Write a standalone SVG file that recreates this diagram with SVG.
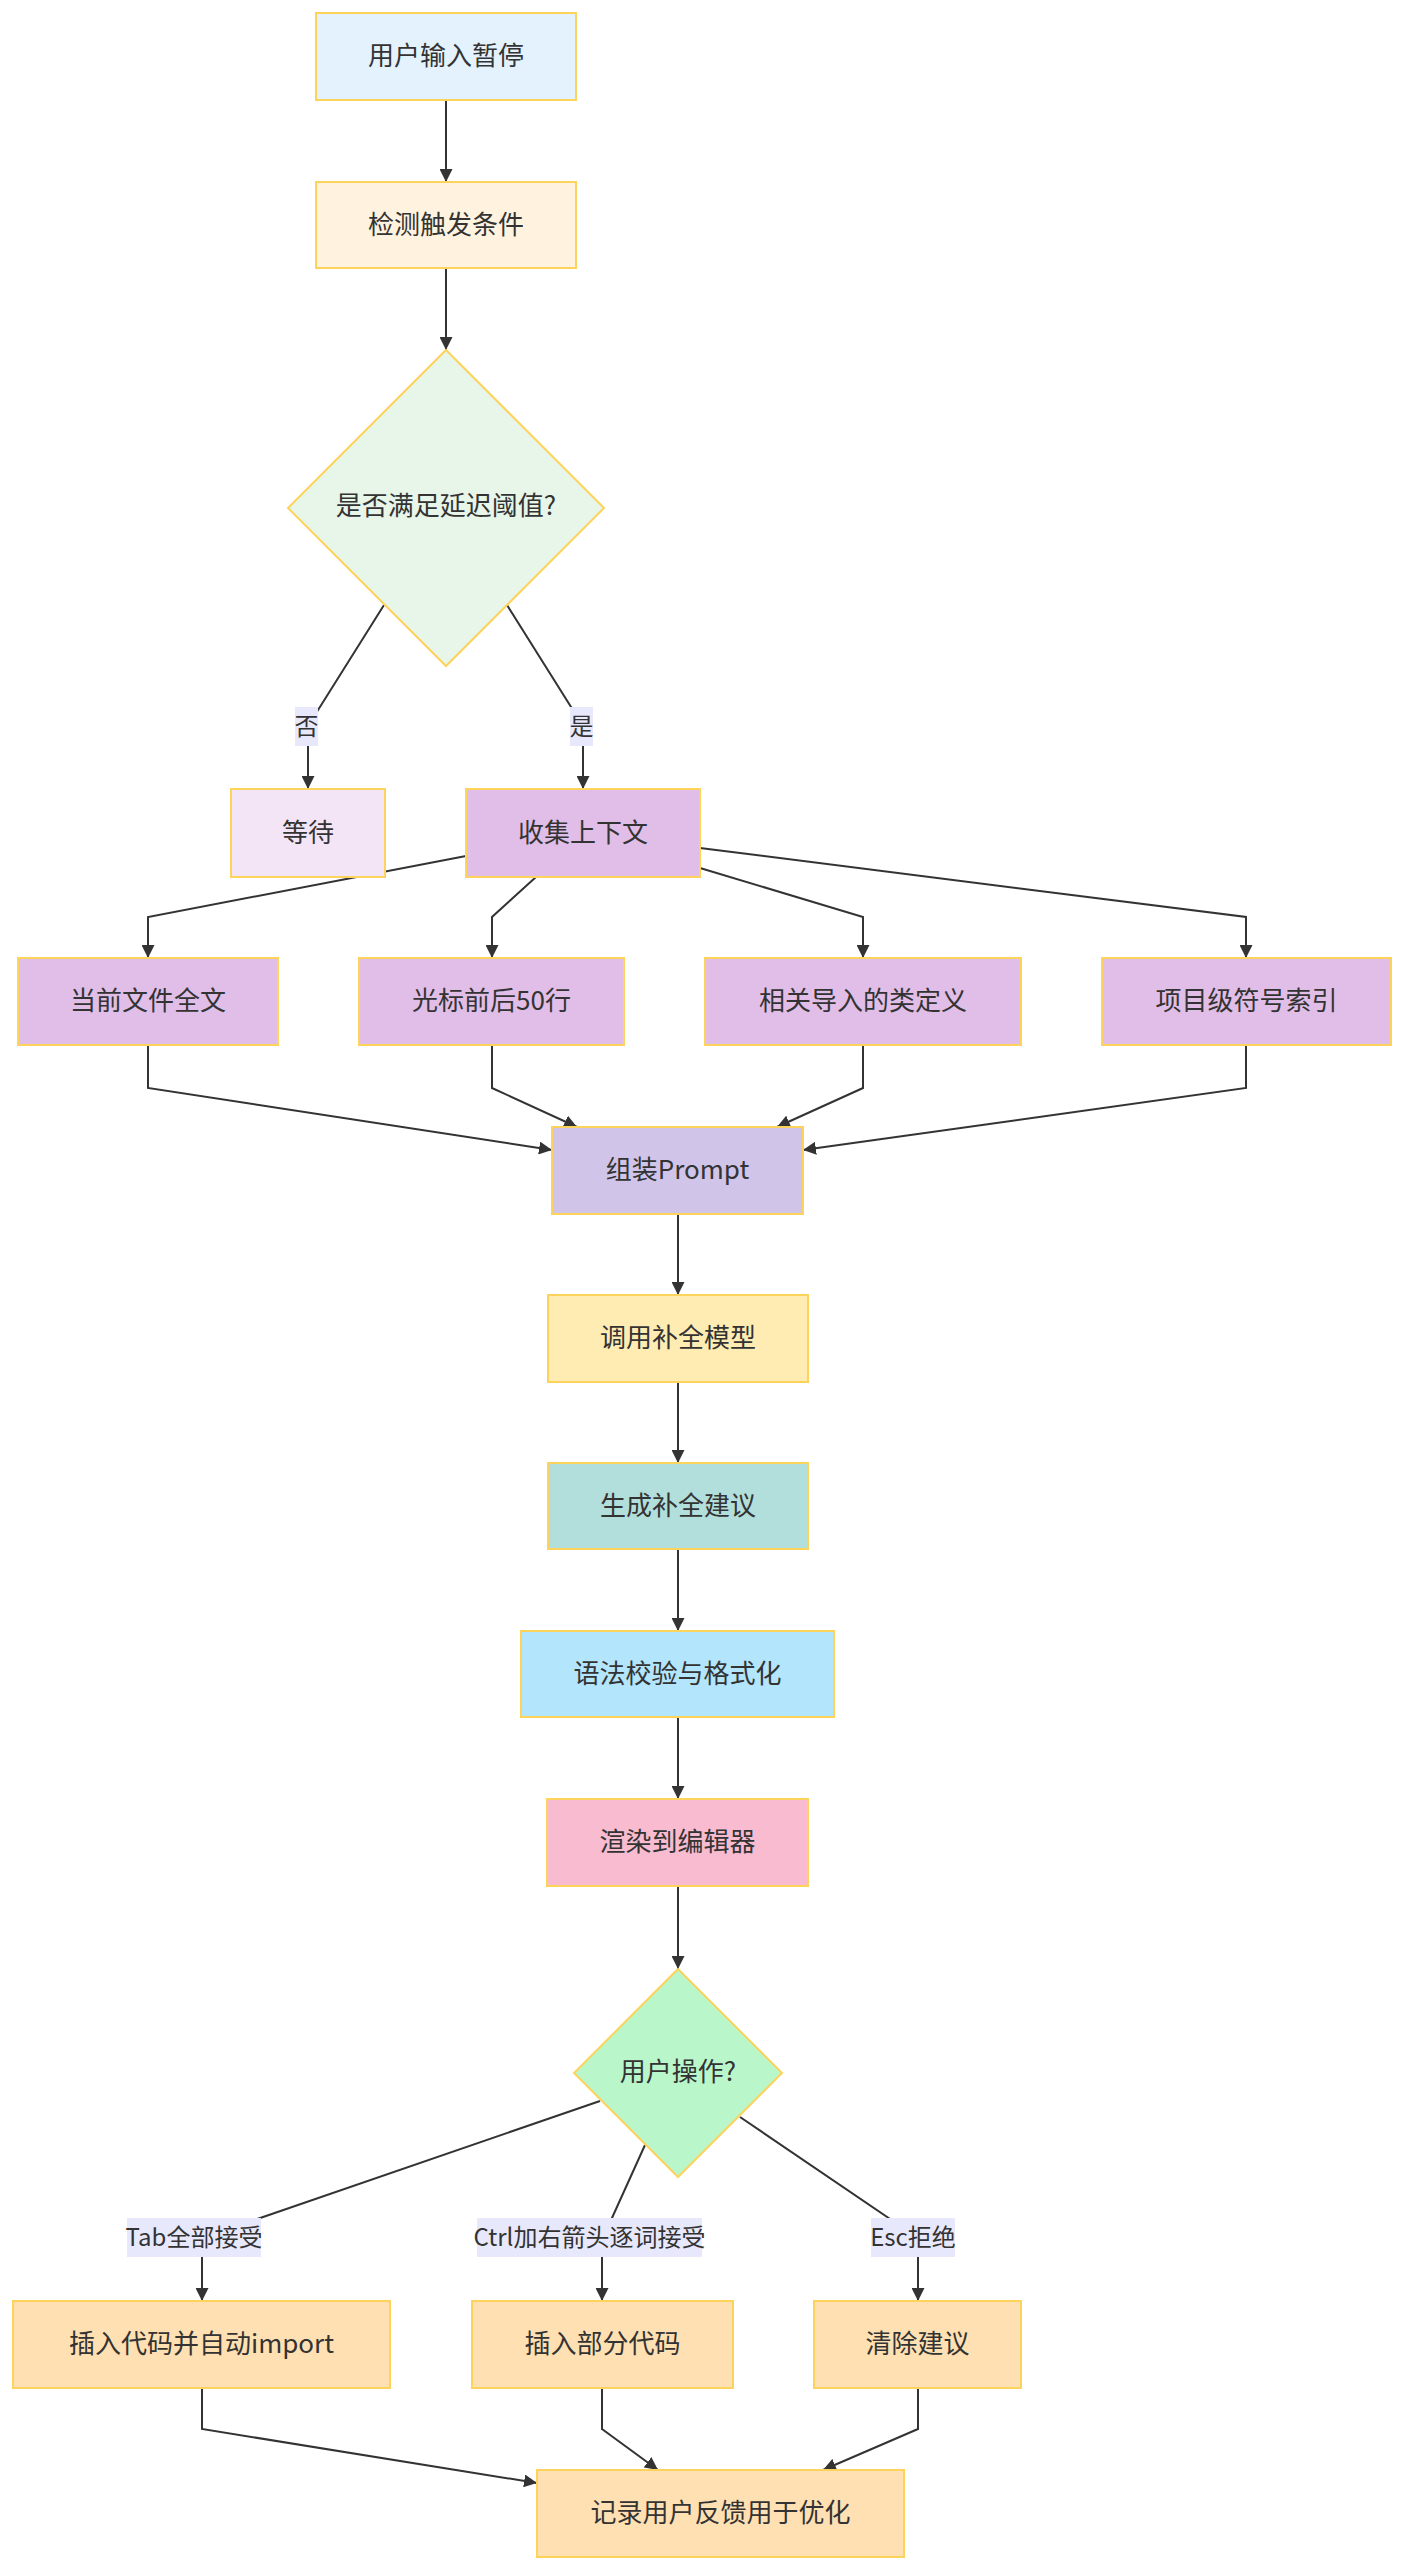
<svg xmlns="http://www.w3.org/2000/svg" width="1404" height="2570" viewBox="0 0 1404 2570">
<style>
.n rect, .n polygon { stroke: #fdd35c; stroke-width: 2; }
.n text { font-family: "Noto Sans CJK SC", "Noto Sans", sans-serif; font-size: 26px; fill: #333; text-anchor: middle; dominant-baseline: central; }
.e path { fill: none; stroke: #333; stroke-width: 2; }
.lbl rect { fill: #e8e8fc; }
.lbl text { font-family: "Noto Sans CJK SC", "Noto Sans", sans-serif; font-size: 24px; fill: #333; text-anchor: middle; dominant-baseline: central; }
</style>
<defs>
<marker id="arr" viewBox="0 0 10 10" refX="10" refY="5" markerUnits="userSpaceOnUse" markerWidth="13" markerHeight="13" orient="auto">
<path d="M0,0 L10,5 L0,10 z" fill="#333"/>
</marker>
</defs>
<rect width="1404" height="2570" fill="#ffffff"/>
<g id="connectors" class="e">
<path d="M446,100 L446,182" marker-end="url(#arr)"/>
<path d="M446,268 L446,350" marker-end="url(#arr)"/>
<path d="M384,605 L308,726 L308,789" marker-end="url(#arr)"/>
<path d="M507,605 L583,726 L583,789" marker-end="url(#arr)"/>
<path d="M466,856 L148,917 L148,958" marker-end="url(#arr)"/>
<path d="M536,877 L492,917 L492,958" marker-end="url(#arr)"/>
<path d="M700,868 L863,917 L863,958" marker-end="url(#arr)"/>
<path d="M700,848 L1246,917 L1246,958" marker-end="url(#arr)"/>
<path d="M148,1045 L148,1088 L552,1150" marker-end="url(#arr)"/>
<path d="M492,1045 L492,1088 L577,1127" marker-end="url(#arr)"/>
<path d="M863,1045 L863,1088 L777,1127" marker-end="url(#arr)"/>
<path d="M1246,1045 L1246,1088 L803,1150" marker-end="url(#arr)"/>
<path d="M678,1214 L678,1295" marker-end="url(#arr)"/>
<path d="M678,1382 L678,1463" marker-end="url(#arr)"/>
<path d="M678,1549 L678,1631" marker-end="url(#arr)"/>
<path d="M678,1717 L678,1799" marker-end="url(#arr)"/>
<path d="M678,1886 L678,1969" marker-end="url(#arr)"/>
<path d="M600,2101 L202,2238 L202,2301" marker-end="url(#arr)"/>
<path d="M645,2145 L602,2240 L602,2301" marker-end="url(#arr)"/>
<path d="M740,2117 L918,2238 L918,2301" marker-end="url(#arr)"/>
<path d="M202,2388 L202,2429 L537,2483" marker-end="url(#arr)"/>
<path d="M602,2388 L602,2429 L658,2470" marker-end="url(#arr)"/>
<path d="M918,2388 L918,2429 L823,2470" marker-end="url(#arr)"/>
</g>
<g id="edge-labels">
<g class="lbl"><rect x="295" y="707" width="23" height="39"/><text x="306.5" y="724.5">否</text></g>
<g class="lbl"><rect x="570" y="707" width="23" height="39"/><text x="581.5" y="724.5">是</text></g>
<g class="lbl"><rect x="127" y="2218" width="134" height="39"/><text x="194" y="2235.5">Tab全部接受</text></g>
<g class="lbl"><rect x="477" y="2218" width="225" height="39"/><text x="589.5" y="2235.5">Ctrl加右箭头逐词接受</text></g>
<g class="lbl"><rect x="871" y="2218" width="84" height="39"/><text x="913" y="2235.5">Esc拒绝</text></g>
</g>
<g id="n1" class="n"><rect x="316" y="13" width="260" height="87" fill="#e3f2fd"/><text x="446" y="53.5">用户输入暂停</text></g>
<g id="n2" class="n"><rect x="316" y="182" width="260" height="86" fill="#fff3e0"/><text x="446" y="222">检测触发条件</text></g>
<g id="d1" class="n"><polygon points="446,350 604,508 446,666 288,508" fill="#e8f5e9"/><text x="446" y="503">是否满足延迟阈值?</text></g>
<g id="wait" class="n"><rect x="231" y="789" width="154" height="88" fill="#f3e5f5"/><text x="308" y="830">等待</text></g>
<g id="collect" class="n"><rect x="466" y="789" width="234" height="88" fill="#e1bee7"/><text x="583" y="830">收集上下文</text></g>
<g id="c1" class="n"><rect x="18" y="958" width="260" height="87" fill="#e1bee7"/><text x="148" y="998.5">当前文件全文</text></g>
<g id="c2" class="n"><rect x="359" y="958" width="265" height="87" fill="#e1bee7"/><text x="491.5" y="998.5">光标前后50行</text></g>
<g id="c3" class="n"><rect x="705" y="958" width="316" height="87" fill="#e1bee7"/><text x="863" y="998.5">相关导入的类定义</text></g>
<g id="c4" class="n"><rect x="1102" y="958" width="289" height="87" fill="#e1bee7"/><text x="1246.5" y="998.5">项目级符号索引</text></g>
<g id="prompt" class="n"><rect x="552" y="1127" width="251" height="87" fill="#d1c4e9"/><text x="677.5" y="1167.5">组装Prompt</text></g>
<g id="model" class="n"><rect x="548" y="1295" width="260" height="87" fill="#ffecb3"/><text x="678" y="1335.5">调用补全模型</text></g>
<g id="gen" class="n"><rect x="548" y="1463" width="260" height="86" fill="#b2dfdb"/><text x="678" y="1503">生成补全建议</text></g>
<g id="check" class="n"><rect x="521" y="1631" width="313" height="86" fill="#b3e5fc"/><text x="677.5" y="1671">语法校验与格式化</text></g>
<g id="render" class="n"><rect x="547" y="1799" width="261" height="87" fill="#f8bbd0"/><text x="677.5" y="1839.5">渲染到编辑器</text></g>
<g id="d2" class="n"><polygon points="678,1969 782,2073 678,2177 574,2073" fill="#b9f6ca"/><text x="678" y="2069">用户操作?</text></g>
<g id="ins1" class="n"><rect x="13" y="2301" width="377" height="87" fill="#ffe0b2"/><text x="201.5" y="2341.5">插入代码并自动import</text></g>
<g id="ins2" class="n"><rect x="472" y="2301" width="261" height="87" fill="#ffe0b2"/><text x="602.5" y="2341.5">插入部分代码</text></g>
<g id="clear" class="n"><rect x="814" y="2301" width="207" height="87" fill="#ffe0b2"/><text x="917.5" y="2341.5">清除建议</text></g>
<g id="log" class="n"><rect x="537" y="2470" width="367" height="87" fill="#ffe0b2"/><text x="720.5" y="2510.5">记录用户反馈用于优化</text></g>
</svg>
